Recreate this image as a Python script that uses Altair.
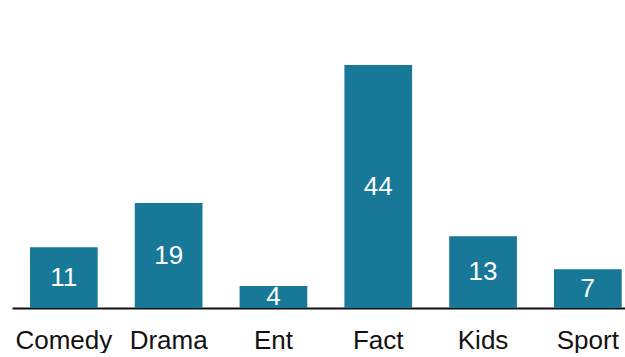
import altair as alt
import pandas as pd

genres = ["Comedy", "Drama", "Ent", "Fact", "Kids", "Sport"]
counts = [11, 19, 4, 44, 13, 7]

df = pd.DataFrame({"genre": genres, "n": counts})

x = alt.X("genre:N", sort=genres, title=None,
          scale=alt.Scale(paddingInner=0.354, paddingOuter=0.1015, align=0.845),
          axis=alt.Axis(labelAngle=0, ticks=False, labelFontSize=26, labelFont="Liberation Sans",
                        labelColor="#111111", labelPadding=19, domainColor="#111111",
                        domainWidth=2, grid=False))
y = alt.Y("n:Q", title=None, scale=alt.Scale(domain=[0, 50], nice=False),
          axis=None)

bars = alt.Chart(df).mark_bar(color="#187898").encode(x=x, y=y)
labels = alt.Chart(df).transform_calculate(mid="datum.n / 2").mark_text(
    color="white", fontSize=26, font="Liberation Sans", baseline="middle"
).encode(x=alt.X("genre:N", sort=genres), y=alt.Y("mid:Q"), text="n:Q")

chart = alt.layer(bars, labels).properties(
    width=613, height=276,
    padding={"left": 12, "top": 32, "right": 0, "bottom": 0},
).configure(background="white").configure_view(stroke=None, strokeWidth=0)

chart.save("out.html", embed_options={"renderer": "svg", "actions": False})
